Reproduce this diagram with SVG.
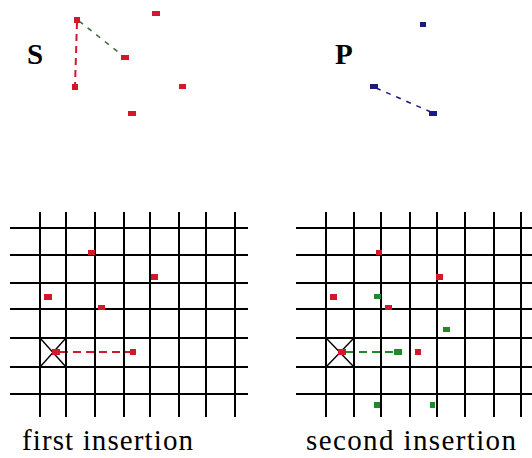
<svg xmlns="http://www.w3.org/2000/svg" width="532" height="458" viewBox="0 0 532 458">
<style>
.lbl{font-family:"Liberation Serif","Times New Roman",serif;font-weight:bold;font-size:29px;fill:#000}
.cap{font-family:"Liberation Serif","Times New Roman",serif;font-size:29px;fill:#000}
.grid line{stroke:#000;stroke-width:2}
.r{fill:#d01a2a}
.g{fill:#1f8a2a}
.b{fill:#1a1a80}
.x{stroke:#000;stroke-width:1.4}
</style>
<rect width="532" height="458" fill="#fff"/>
<g id="label-S"><text class="lbl" x="27" y="64">S</text></g>
<g id="label-P"><text class="lbl" x="335" y="64">P</text></g>
<g id="connectors">
<line x1="77" y1="22" x2="75" y2="86" stroke="#d01a2a" stroke-width="2" stroke-dasharray="7,5"/>
<line x1="79" y1="21" x2="122" y2="55" stroke="#3a6a3a" stroke-width="1.5" stroke-dasharray="5,6"/>
<line x1="376" y1="88" x2="431" y2="112" stroke="#1a1a80" stroke-width="1.5" stroke-dasharray="5,6"/>
<line x1="60" y1="352" x2="130" y2="352" stroke="#d01a2a" stroke-width="2" stroke-dasharray="8,5"/>
<line x1="346" y1="352" x2="395" y2="352" stroke="#1f8a2a" stroke-width="2" stroke-dasharray="8,5"/>
</g>
<g id="S-points">
<rect class="r" x="74" y="17" width="6" height="6"/>
<rect class="r" x="152" y="11" width="8" height="5"/>
<rect class="r" x="121" y="55" width="8" height="5"/>
<rect class="r" x="72" y="84" width="6" height="6"/>
<rect class="r" x="179" y="84" width="7" height="5"/>
<rect class="r" x="128" y="111" width="8" height="5"/>
</g>
<g id="P-points">
<rect class="b" x="420" y="22" width="6" height="5"/>
<rect class="b" x="370" y="84" width="8" height="5"/>
<rect class="b" x="429" y="111" width="8" height="5"/>
</g>
<g id="grid-first" class="grid">
<line x1="40" y1="212" x2="40" y2="417"/>
<line x1="66" y1="212" x2="66" y2="417"/>
<line x1="95" y1="212" x2="95" y2="417"/>
<line x1="124" y1="212" x2="124" y2="417"/>
<line x1="150" y1="212" x2="150" y2="417"/>
<line x1="179" y1="212" x2="179" y2="417"/>
<line x1="206" y1="212" x2="206" y2="417"/>
<line x1="235" y1="212" x2="235" y2="417"/>
<line x1="10" y1="228" x2="248" y2="228"/>
<line x1="10" y1="255" x2="248" y2="255"/>
<line x1="10" y1="283" x2="248" y2="283"/>
<line x1="10" y1="309" x2="248" y2="309"/>
<line x1="10" y1="338" x2="248" y2="338"/>
<line x1="10" y1="367" x2="248" y2="367"/>
<line x1="10" y1="394" x2="248" y2="394"/>
</g>
<g id="cross-first">
<line class="x" x1="40" y1="338" x2="66" y2="367"/>
<line class="x" x1="66" y1="338" x2="40" y2="367"/>
</g>
<g id="first-points">
<rect class="r" x="88" y="250" width="7" height="5"/>
<rect class="r" x="151" y="274" width="7" height="6"/>
<rect class="r" x="44" y="294" width="8" height="6"/>
<rect class="r" x="98" y="305" width="7" height="5"/>
<rect class="r" x="52" y="349" width="8" height="6"/>
<rect class="r" x="130" y="349" width="6" height="6"/>
</g>
<g id="caption-first"><text class="cap" x="22" y="450" textLength="171" lengthAdjust="spacing">first insertion</text></g>
<g id="grid-second" class="grid">
<line x1="326" y1="212" x2="326" y2="417"/>
<line x1="354" y1="212" x2="354" y2="417"/>
<line x1="381" y1="212" x2="381" y2="417"/>
<line x1="410" y1="212" x2="410" y2="417"/>
<line x1="437" y1="212" x2="437" y2="417"/>
<line x1="465" y1="212" x2="465" y2="417"/>
<line x1="494" y1="212" x2="494" y2="417"/>
<line x1="521" y1="212" x2="521" y2="417"/>
<line x1="296" y1="228" x2="532" y2="228"/>
<line x1="296" y1="255" x2="532" y2="255"/>
<line x1="296" y1="283" x2="532" y2="283"/>
<line x1="296" y1="309" x2="532" y2="309"/>
<line x1="296" y1="338" x2="532" y2="338"/>
<line x1="296" y1="367" x2="532" y2="367"/>
<line x1="296" y1="394" x2="532" y2="394"/>
</g>
<g id="cross-second">
<line class="x" x1="326" y1="338" x2="354" y2="367"/>
<line class="x" x1="354" y1="338" x2="326" y2="367"/>
</g>
<g id="second-points">
<rect class="r" x="376" y="250" width="6" height="5"/>
<rect class="r" x="436" y="274" width="7" height="6"/>
<rect class="r" x="330" y="294" width="7" height="6"/>
<rect class="r" x="385" y="305" width="7" height="5"/>
<rect class="r" x="338" y="349" width="8" height="6"/>
<rect class="r" x="415" y="349" width="6" height="6"/>
<rect class="g" x="374" y="294" width="7" height="5"/>
<rect class="g" x="443" y="327" width="7" height="5"/>
<rect class="g" x="394" y="349" width="8" height="6"/>
<rect class="g" x="374" y="402" width="6" height="6"/>
<rect class="g" x="430" y="402" width="5" height="6"/>
</g>
<g id="caption-second"><text class="cap" x="306" y="450" textLength="210" lengthAdjust="spacing">second insertion</text></g>
</svg>
